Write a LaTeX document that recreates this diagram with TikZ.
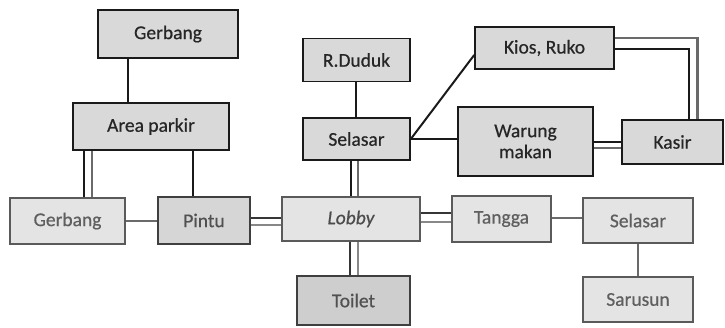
\documentclass[tikz,border=0pt]{standalone}
\usepackage{fontspec}
\setmainfont{Carlito}[FakeBold=0.6]
\definecolor{boxfill}{HTML}{D9D9D9}
\definecolor{palefill}{HTML}{E4E4E4}
\definecolor{midfill}{HTML}{D6D6D6}
\definecolor{edgedark}{HTML}{1A1A1A}
\definecolor{edgegrey}{HTML}{5A5A5A}
\definecolor{txtdark}{HTML}{262626}
\definecolor{txtgrey}{HTML}{5F5F5F}
\definecolor{lnkgrey}{HTML}{6A6A6A}
\begin{document}
\begin{tikzpicture}[x=1pt,y=-1pt,
  base/.style={rectangle, inner sep=0pt, align=center,
    font=\fontsize{19.5}{21}\selectfont, line width=1.6pt},
  upper/.style={base, draw=edgedark, fill=boxfill, text=txtdark},
  lower/.style={base, draw=edgegrey, fill=palefill, text=txtgrey},
  lowerdark/.style={base, draw=edgegrey!70!black, fill=midfill, text=txtdark!80},
  link/.style={draw=edgedark, line width=2pt},
  linkgrey/.style={draw=lnkgrey, line width=2pt},
  linksoft/.style={draw=lnkgrey!80, line width=2pt}]
\useasboundingbox (0,0) rectangle (725,327);

% upper left group
\node[upper, minimum width=140pt, minimum height=48pt] (g1) at (168,34) {Gerbang};
\node[upper, minimum width=156pt, minimum height=47pt] (ap) at (151,126.5) {Area parkir};

% ground floor row
\node[lower, minimum width=115pt, minimum height=46pt] (g2) at (67.5,221) {Gerbang};
\node[lowerdark, minimum width=92pt, minimum height=47pt] (pin) at (204,220.5) {Pintu};
\node[lower, minimum width=138pt, minimum height=44pt, text=txtgrey!80!black] (lob) at (351,219) {\itshape Lobby};
\node[lowerdark, minimum width=113pt, minimum height=49pt, fill=boxfill!95!black] (toi) at (353.5,300.5) {Toilet};
\node[lower, minimum width=99pt, minimum height=46pt] (tan) at (501.5,219) {Tangga};
\node[lower, minimum width=110pt, minimum height=45pt] (sel2) at (638,220.5) {Selasar};
\node[lower, minimum width=110pt, minimum height=45pt] (sar) at (638,299.5) {Sarusun};

% upper right group
\node[upper, minimum width=107pt, minimum height=43pt] (rd) at (356.5,60) {R.Duduk};
\node[upper, minimum width=107pt, minimum height=42pt] (sel1) at (356.5,139) {Selasar};
\node[upper, minimum width=139pt, minimum height=42pt] (kios) at (544.5,48) {Kios, Ruko};
\node[upper, minimum width=135pt, minimum height=69pt] (war) at (525.5,141.5) {Warung\\makan};
\node[upper, minimum width=101pt, minimum height=44pt] (kas) at (672.5,142) {Kasir};

% connectors, left side
\draw[link] ([xshift=-40pt]g1.south) -- ([xshift=-40pt]g1.south |- ap.north);
\draw[link] ([xshift=-67pt]ap.south) -- ([xshift=-67pt]ap.south |- g2.north);
\draw[linkgrey] ([xshift=-59pt]ap.south) -- ([xshift=-59pt]ap.south |- g2.north);
\draw[link] ([xshift=42pt]ap.south) -- ([xshift=42pt]ap.south |- pin.north);
\draw[linkgrey] (g2.east) -- (g2.east -| pin.west);
\draw[link, draw=edgegrey!60!black] ([yshift=2.5pt]pin.east) -- ([yshift=2.5pt]pin.east -| lob.west);
\draw[linksoft] ([yshift=-4.5pt]pin.east) -- ([yshift=-4.5pt]pin.east -| lob.west);

% connectors around the lobby
\draw[link] ([xshift=-5.5pt]sel1.south) -- ([xshift=-5.5pt]sel1.south |- lob.north);
\draw[linkgrey] ([xshift=1.5pt]sel1.south) -- ([xshift=1.5pt]sel1.south |- lob.north);
\draw[link, draw=edgegrey!60!black] ([xshift=-1pt]lob.south) -- ([xshift=-1pt]lob.south |- toi.north);
\draw[linksoft] ([xshift=7pt]lob.south) -- ([xshift=7pt]lob.south |- toi.north);
\draw[link, draw=edgegrey!60!black] ([yshift=6pt]lob.east) -- ([yshift=6pt]lob.east -| tan.west);
\draw[linksoft] ([yshift=-3pt]lob.east) -- ([yshift=-3pt]lob.east -| tan.west);
\draw[linkgrey] ([yshift=1pt]tan.east) -- ([yshift=1pt]tan.east -| sel2.west);
\draw[linkgrey, line width=2.2pt] (sel2.south) -- (sar.north);

% connectors, upper right
\draw[link] ([xshift=-0.5pt]rd.south) -- ([xshift=-0.5pt]rd.south |- sel1.north);
\draw[link] (sel1.east) -- ([yshift=-7pt]kios.west);
\draw[link] (sel1.east) -- (sel1.east -| war.west);
\draw[link] ([yshift=-0.5pt]war.east) -- ([yshift=-0.5pt]war.east -| kas.west);
\draw[linkgrey] ([yshift=-6.5pt]war.east) -- ([yshift=-6.5pt]war.east -| kas.west);
\draw[linkgrey, line width=2.4pt] ([yshift=10pt]kios.east) -| ([xshift=25pt]kas.north);
\draw[link] ([yshift=-1pt]kios.east) -| ([xshift=16pt]kas.north);
\end{tikzpicture}
\end{document}
